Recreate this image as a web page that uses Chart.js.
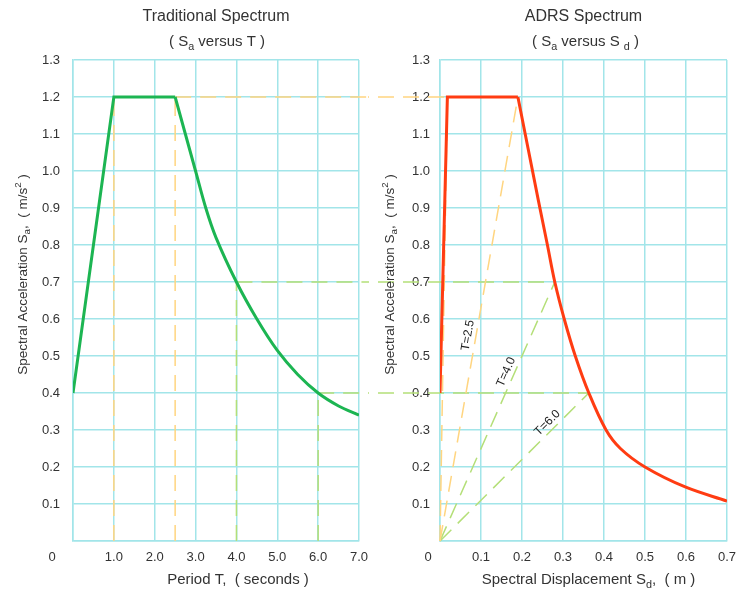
<!DOCTYPE html>
<html>
<head>
<meta charset="utf-8">
<script src="https://cdn.jsdelivr.net/npm/chart.js@4.4.1/dist/chart.umd.min.js"></script>
<style>
  body { margin: 0; background: #fff; }
  .pane { position: absolute; top: 0; width: 368px; height: 595px; }
</style>
</head>
<body>
<div class="pane" style="left:0"><canvas id="tradChart" width="368" height="595"></canvas></div>
<div class="pane" style="left:368px"><canvas id="adrsChart" width="368" height="595"></canvas></div>
<script>
// Traditional spectrum (Sa versus T)
const periodRise = [0, 1.0, 2.5];
const saRise = [0.4, 1.2, 1.2];
const periodDecay = [2.5, 3.0, 3.25, 3.5, 4.0, 4.5, 5.0, 5.5, 6.0, 6.5, 7.0];
const saDecay = [1.2, 1.0, 0.9, 0.82, 0.7, 0.6, 0.515, 0.45, 0.4, 0.365, 0.34];

// ADRS spectrum (Sa versus Sd)
const sdRise = [0, 0.018, 0.19];
const saRiseAdrs = [0.4, 1.2, 1.2];
const sdDecay = [0.19, 0.24, 0.262, 0.28, 0.303, 0.33, 0.363, 0.405, 0.44, 0.5, 0.598, 0.7];
const saDecayAdrs = [1.2, 0.92, 0.8, 0.7, 0.6, 0.5, 0.4, 0.3, 0.25, 0.2, 0.146, 0.108];

// period guides linking both plots
const guidePeriods = [1.0, 2.5, 4.0, 6.0];
const guideSa = [1.2, 1.2, 0.7, 0.4];
const guideSd = [0.018, 0.19, 0.28, 0.363];
const guideLabels = ["", "T=2.5", "T=4.0", "T=6.0"];

// tick labels
const periodTicks = ["", "1.0", "2.0", "3.0", "4.0", "5.0", "6.0", "7.0"];
const sdTicks = ["", "0.1", "0.2", "0.3", "0.4", "0.5", "0.6", "0.7"];
const saTicks = ["", "0.1", "0.2", "0.3", "0.4", "0.5", "0.6", "0.7", "0.8", "0.9", "1.0", "1.1", "1.2", "1.3"];

const CYAN = "#a2e5e9";
const YELLOW = "#ffd580";
const LIME = "#b4df78";
const GREEN = "#1cb552";
const RED = "#ff3c12";
const TEXT = "#333333";
const FONT = '"Liberation Sans", Arial, sans-serif';

function pts(xs, ys) {
  return xs.map((x, i) => ({ x: x, y: ys[i] }));
}

// straight rise + plateau, then a smooth decay branch
function curveSets(xsA, ysA, xsB, ysB, color) {
  return [
    { data: pts(xsA, ysA), borderColor: color, borderWidth: 3, tension: 0, order: 0 },
    { data: pts(xsB, ysB), borderColor: color, borderWidth: 3, tension: 0.35, order: 0 },
  ];
}

function guideSet(data, i) {
  return {
    data: data,
    borderColor: guidePeriods[i] <= 2.5 ? YELLOW : LIME,
    borderWidth: 1.5,
    borderDash: [16, 9],
    clip: false,
    order: 1,
  };
}

const periodMax = 7;
const sdMax = 0.7;

const tradSets = curveSets(periodRise, saRise, periodDecay, saDecay, GREEN);
guidePeriods.forEach((t, i) => {
  tradSets.push(guideSet([{ x: t, y: 0 }, { x: t, y: guideSa[i] }], i));
  if (guideSa[i + 1] !== guideSa[i]) {
    tradSets.push(guideSet([{ x: t, y: guideSa[i] }, { x: periodMax * 1.5, y: guideSa[i] }], i));
  }
});

const adrsSets = curveSets(sdRise, saRiseAdrs, sdDecay, saDecayAdrs, RED);
guideSd.forEach((d, i) => {
  adrsSets.push(guideSet([{ x: 0, y: 0 }, { x: d, y: guideSa[i] }], i));
  if (guideSa[i - 1] !== guideSa[i]) {
    adrsSets.push(guideSet([{ x: -sdMax, y: guideSa[i] }, { x: d, y: guideSa[i] }], i));
  }
});

// text with sub / superscripts: parts are [text, shift] (1 = sub, -1 = sup)
function drawRich(ctx, parts, cx, cy, size) {
  let total = 0;
  const widths = parts.map(([t, s]) => {
    ctx.font = (s ? size * 0.72 : size) + "px " + FONT;
    const w = ctx.measureText(t).width;
    total += w;
    return w;
  });
  let x = cx - total / 2;
  ctx.textAlign = "left";
  ctx.textBaseline = "middle";
  parts.forEach(([t, s], k) => {
    ctx.font = (s ? size * 0.72 : size) + "px " + FONT;
    ctx.fillText(t, x, cy + s * size * 0.32);
    x += widths[k];
  });
}

function decor(cfg) {
  return {
    id: "decor",
    afterDraw(chart) {
      const { ctx, chartArea: a } = chart;
      const mid = (a.left + a.right) / 2;
      ctx.save();
      ctx.fillStyle = TEXT;
      drawRich(ctx, [[cfg.title, 0]], mid, 17, 16);
      drawRich(ctx, cfg.subtitle, mid + cfg.subShift, 42, 15);
      drawRich(ctx, cfg.xTitle, mid + cfg.xShift, 580, 15);
      ctx.font = "13px " + FONT;
      ctx.textAlign = "center";
      ctx.textBaseline = "middle";
      ctx.fillText("0", a.left - cfg.zeroGap, a.bottom + 16);
      ctx.translate(cfg.yTitleX, (a.top + a.bottom) / 2 - 26);
      ctx.rotate(-Math.PI / 2);
      drawRich(ctx, [["Spectral Acceleration S", 0], ["a", 1], [",  ( m/s", 0], ["2", -1], [" )", 0]], 0, 0, 13.5);
      ctx.restore();
    },
  };
}

const labelAlong = [0, 0.46, 0.64, 0.76];
const periodLabels = {
  id: "periodLabels",
  afterDatasetsDraw(chart) {
    const { ctx } = chart;
    const xs = chart.scales.x, ys = chart.scales.y;
    const x0 = xs.getPixelForValue(0), y0 = ys.getPixelForValue(0);
    guideLabels.forEach((lab, i) => {
      if (!lab) return;
      const x1 = xs.getPixelForValue(guideSd[i]), y1 = ys.getPixelForValue(guideSa[i]);
      const f = labelAlong[i];
      ctx.save();
      ctx.translate(x0 + (x1 - x0) * f, y0 + (y1 - y0) * f);
      ctx.rotate(Math.atan2(y1 - y0, x1 - x0));
      ctx.fillStyle = "#222";
      ctx.font = "12px " + FONT;
      ctx.textAlign = "center";
      ctx.textBaseline = "middle";
      ctx.fillText(lab, 0, -8);
      ctx.restore();
    });
  },
};

function scales(xMax, xStep, xLabels, yWidth, yPad) {
  const grid = { color: CYAN, lineWidth: 1.5, drawTicks: false };
  const border = { color: CYAN, width: 1.5 };
  const tickFont = { family: FONT, size: 13 };
  return {
    x: {
      type: "linear", min: 0, max: xMax,
      grid: grid, border: border,
      ticks: { stepSize: xStep, padding: 9, color: TEXT, font: tickFont, maxRotation: 0,
        callback: (v, i) => xLabels[i] },
      afterFit: (s) => { s.height = 54; s.paddingLeft = 0; s.paddingRight = 0; },
    },
    y: {
      min: 0, max: 1.3,
      grid: grid, border: border,
      ticks: { stepSize: 0.1, padding: yPad, color: TEXT, font: tickFont,
        callback: (v, i) => saTicks[i] },
      afterFit: (s) => { s.width = yWidth; s.paddingTop = 0; s.paddingBottom = 0; },
    },
  };
}

function makeChart(id, sets, scaleOpts, plugins) {
  sets.forEach((d) => { d.showLine = true; d.pointRadius = 0; d.fill = false; });
  return new Chart(document.getElementById(id), {
    type: "scatter",
    data: { datasets: sets },
    options: {
      responsive: false,
      animation: false,
      devicePixelRatio: 1,
      layout: { padding: { left: 0, top: 60, right: 9, bottom: 0 } },
      plugins: { legend: { display: false }, tooltip: { enabled: false } },
      scales: scaleOpts,
    },
    plugins: plugins,
  });
}

makeChart("tradChart", tradSets, scales(periodMax, 1, periodTicks, 73, 13), [
  decor({
    title: "Traditional Spectrum",
    subtitle: [["( S", 0], ["a", 1], [" versus T )", 0]],
    subShift: 1,
    xTitle: [["Period T,  ( seconds )", 0]],
    xShift: 22,
    yTitleX: 23,
    zeroGap: 21,
  }),
]);

makeChart("adrsChart", adrsSets, scales(sdMax, 0.1, sdTicks, 72, 10), [
  periodLabels,
  decor({
    title: "ADRS Spectrum",
    subtitle: [["( S", 0], ["a", 1], [" versus S ", 0], ["d", 1], [" )", 0]],
    subShift: 2,
    xTitle: [["Spectral Displacement S", 0], ["d", 1], [",  ( m )", 0]],
    xShift: 5,
    yTitleX: 22,
    zeroGap: 12,
  }),
]);
</script>
</body>
</html>
